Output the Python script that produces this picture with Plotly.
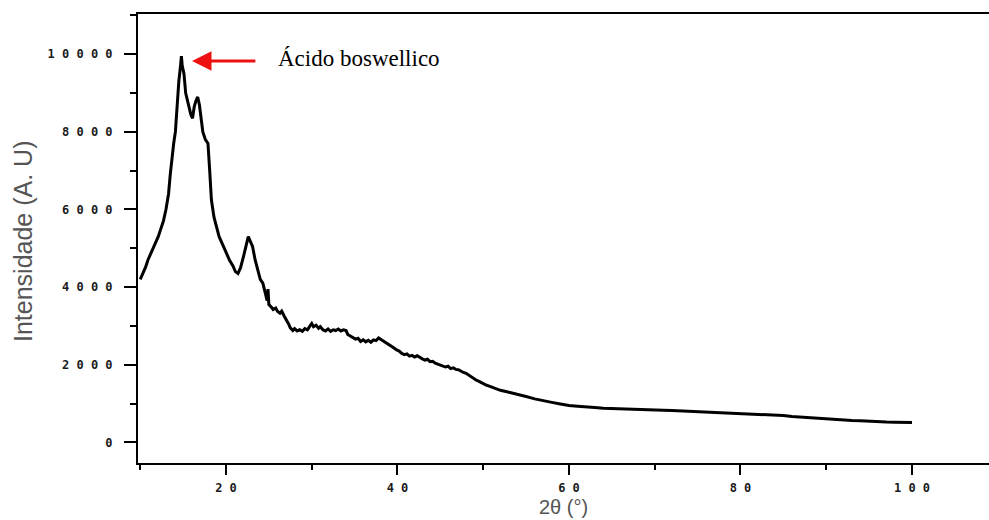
import plotly.graph_objects as go

# 2θ (degrees) and intensity (A.U.)
two_theta = [10.0, 10.3, 10.6, 10.9, 11.2, 11.5, 11.8, 12.1, 12.4, 12.7, 13.0, 13.3, 13.5, 13.7, 13.9,
             14.1, 14.3, 14.5, 14.7, 14.8, 14.9, 15.1, 15.3, 15.5, 15.7, 15.9, 16.1, 16.3, 16.5, 16.7,
             16.9, 17.1, 17.3, 17.6, 17.9, 18.1, 18.3, 18.6, 18.9, 19.2, 19.6, 20.0, 20.4, 20.8, 21.1,
             21.4, 21.7, 22.0, 22.3, 22.6, 22.8, 23.1, 23.4, 23.7, 24.0, 24.3, 24.6, 24.8, 24.9,
             25.0, 25.3, 25.5, 25.8, 26.0, 26.3, 26.5, 26.8, 27.0, 27.3, 27.5, 27.8, 28.0, 28.3, 28.6,
             28.9, 29.2, 29.5, 29.8, 30.0, 30.2, 30.5, 30.8, 31.0, 31.3, 31.6, 31.9, 32.2, 32.5, 32.8,
             33.1, 33.4, 33.7, 34.0, 34.2, 34.5, 34.8, 35.1, 35.4, 35.7, 36.0, 36.3, 36.6, 36.9, 37.2,
             37.5, 37.8, 38.1, 38.4, 38.7, 39.0, 39.3, 39.6, 39.9, 40.2, 40.5, 40.8, 41.1, 41.4, 41.7,
             42.0, 42.3, 42.6, 42.9, 43.2, 43.5, 43.8, 44.1, 44.4, 44.7, 45.0, 45.3, 45.6, 45.9, 46.2,
             46.5, 46.8, 47.1, 47.4, 47.7, 48.0, 48.3, 48.6, 48.9, 49.2, 49.5, 49.8, 50.1, 50.4, 50.7,
             51.0, 51.5, 52.0, 53.0, 54.0, 55.0, 56.0, 57.0, 58.0, 59.0, 60.0, 61.0, 62.0, 63.0, 64.0,
             65.0, 66.0, 67.0, 68.0, 69.0, 70.0, 71.0, 72.0, 73.0, 74.0, 75.0, 76.0, 77.0, 78.0, 79.0,
             80.0, 81.0, 82.0, 83.0, 84.0, 85.0, 86.0, 87.0, 88.0, 89.0, 90.0, 91.0, 92.0, 93.0, 94.0,
             95.0, 96.0, 97.0, 98.0, 99.0, 100.0]
intensity = [4200, 4350, 4500, 4700, 4850, 5000, 5150, 5300, 5500, 5700, 6000, 6400, 6900, 7350, 7700,
             8000, 8700, 9300, 9700, 9950, 9700, 9500, 9000, 8800, 8650, 8450, 8350, 8650, 8800, 8900,
             8700, 8350, 8000, 7800, 7700, 7000, 6250, 5800, 5550, 5300, 5100, 4900, 4700, 4550, 4400,
             4350, 4500, 4750, 5000, 5300, 5200, 5050, 4700, 4450, 4200, 4100, 3800, 3650, 3950,
             3550, 3480, 3420, 3460, 3380, 3330, 3380, 3250, 3180, 3050, 2950, 2880, 2930, 2870, 2900,
             2860, 2930, 2900, 3000, 3060, 2980, 3020, 2940, 2980, 2900, 2870, 2920, 2860, 2900, 2880,
             2920, 2870, 2900, 2880, 2780, 2740, 2700, 2660, 2680, 2600, 2640, 2590, 2630, 2580, 2640,
             2620, 2690, 2650, 2600, 2560, 2510, 2470, 2430, 2380, 2350, 2290, 2260, 2280, 2220, 2240,
             2200, 2230, 2180, 2150, 2120, 2140, 2080, 2090, 2040, 2010, 1980, 1960, 1940, 1960, 1900,
             1920, 1880, 1870, 1830, 1800, 1780, 1730, 1680, 1640, 1600, 1570, 1530, 1500, 1470, 1450,
             1420, 1380, 1340, 1290, 1240, 1180, 1120, 1070, 1030, 990, 950, 930, 905, 895, 880,
             870, 865, 855, 845, 840, 835, 825, 820, 810, 805, 800, 790, 785, 775, 765,
             750, 740, 730, 715, 705, 690, 665, 650, 625, 610, 595, 580, 570, 560, 555,
             540, 535, 525, 520, 515, 510]

x_tick_vals = [20, 40, 60, 80, 100]
x_tick_labels = ["2 0", "4 0", "6 0", "8 0", "1 0 0"]
y_tick_vals = [0, 2000, 4000, 6000, 8000, 10000]
y_tick_labels = ["0", "2 0 0 0", "4 0 0 0", "6 0 0 0", "8 0 0 0", "1 0 0 0 0"]

fig = go.Figure()
fig.add_trace(go.Scatter(x=two_theta, y=intensity, mode="lines",
                         line=dict(color="black", width=3), showlegend=False))

tick_font = dict(family="DejaVu Sans Mono", size=12, color="#1a1a1a", weight="bold")

fig.update_xaxes(range=[9.74, 108.98], tickvals=x_tick_vals, ticktext=x_tick_labels,
                 ticks="outside", ticklen=10, tickwidth=2, tickcolor="black",
                 showline=True, linewidth=2, linecolor="black", mirror=True,
                 showgrid=False, zeroline=False, tickfont=tick_font, ticklabelstandoff=3,
                 minor=dict(dtick=10, ticks="outside", ticklen=5, tickwidth=2, tickcolor="black"))
fig.update_yaxes(range=[-533, 11038], tickvals=y_tick_vals, ticktext=y_tick_labels,
                 ticks="outside", ticklen=12, tickwidth=2, tickcolor="black",
                 showline=True, linewidth=2, linecolor="black", mirror=False,
                 showgrid=False, zeroline=False, tickfont=tick_font, ticklabelstandoff=9,
                 minor=dict(dtick=1000, ticks="outside", ticklen=6, tickwidth=2, tickcolor="black"))

# Arrow pointing to the peak
fig.add_annotation(x=16.04, y=9826, ax=23.6, ay=9826, axref="x", ayref="y", xref="x", yref="y",
                   text="", showarrow=True, arrowhead=2, arrowsize=1.3, arrowwidth=3,
                   arrowcolor="#ee1111")
fig.add_annotation(x=25.83, y=9903, xref="x", yref="y", text="Ácido boswellico", showarrow=False,
                   xanchor="left", yanchor="middle",
                   font=dict(family="Liberation Serif", size=23, color="black"))

# Axis titles (pixel positions, converted to paper coordinates below)
fig.add_annotation(x=23, y=241, text="Intensidade (A. U)",
                   showarrow=False, textangle=-90,
                   font=dict(family="Liberation Sans", size=25, color="#555555"))
fig.add_annotation(x=563, y=507, text="2θ (°)", showarrow=False,
                   font=dict(family="Liberation Sans", size=20, color="#555555"))

L, R, T, B = 138, 0, 14, 57
W, H = 989, 520
pw, ph = W - L - R, H - T - B
for ann in fig.layout.annotations[2:]:
    px, py = ann.x, ann.y
    ann.xref = "paper"
    ann.yref = "paper"
    ann.x = (px - L) / pw
    ann.y = (H - B - py) / ph
    ann.xanchor = "center"
    ann.yanchor = "middle"

fig.update_layout(width=W, height=H, margin=dict(l=L, r=R, t=T, b=B),
                  plot_bgcolor="white", paper_bgcolor="white")

fig.write_html("out.html", config={"displayModeBar": False})

# remove the browser's default page margin so the figure sits at the window origin
with open("out.html", "r", encoding="utf-8") as f:
    html = f.read()
html = html.replace("<head>", "<head><style>html,body{margin:0;padding:0;overflow:hidden;}</style>", 1)
with open("out.html", "w", encoding="utf-8") as f:
    f.write(html)
